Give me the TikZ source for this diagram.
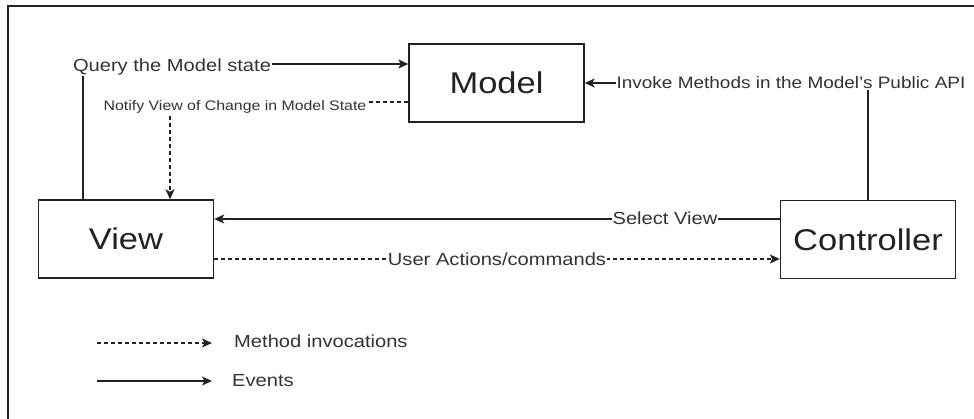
\documentclass[tikz,border=0pt]{standalone}
\usepackage{fontspec}
\setmainfont{Liberation Sans}[FakeStretch=1.15]
\usetikzlibrary{arrows.meta}
\definecolor{ink}{HTML}{222222}
\definecolor{txt}{HTML}{333333}
\tikzset{
  box/.style={draw=ink, line width=1.4pt, minimum width=175pt, minimum height=78pt,
    inner sep=0pt, font=\fontsize{30}{34}\selectfont, text=ink},
  lbl/.style={fill=white, inner sep=1pt, text=txt, font=\fontsize{17.5}{20}\selectfont},
  apilbl/.style={lbl, font=\fontsize{16.5}{19}\selectfont},
  smalllbl/.style={lbl, font=\fontsize{13.8}{16}\selectfont},
  evt/.style={draw=ink, line width=1.3pt, -{Stealth[length=10pt,width=9pt,inset=2.5pt]}},
  call/.style={evt, dash pattern=on 4pt off 3pt},
  frameline/.style={draw=ink, line width=2pt}
}
\begin{document}
\begin{tikzpicture}[x=1pt, y=-1pt]
  \useasboundingbox (0,0) rectangle (974,419);

  % outer frame (top and left edges)
  \coordinate (ftl) at (8,6);
  \coordinate (ftr) at (974,6);
  \coordinate (fbl) at (8,419);
  \draw[frameline] (ftr) -- (ftl) -- (fbl);

  % the three MVC components
  \node[box] (model) at (496.5,83) {Model};
  \node[box] (view) at (126,239) {View};
  \node[box] (ctrl) at (868,239.5) {Controller};

  % routing points of the connectors
  \coordinate (qc) at (83,64);
  \coordinate (nc) at (170,102);
  \coordinate (ic) at (868,83);
  \coordinate (sv) at (500,219);
  \coordinate (ua) at (500,259);

  % View queries the Model
  \draw[evt] (view.north -| qc) -- (qc) -- (model.west |- qc);
  % Model notifies the View
  \draw[call] (model.west |- nc) -- (nc) -- (view.north -| nc);
  % Controller invokes the Model's API
  \draw[evt] (ctrl.north) -- (ic) -- (model.east |- ic);
  % Controller selects the View
  \draw[evt] (sv -| ctrl.west) -- (sv -| view.east);
  % View forwards user actions to the Controller
  \draw[call] (ua -| view.east) -- (ua -| ctrl.west);

  % connector labels
  \node[lbl] (qlbl) at (172,67) {Query the Model state};
  \node[smalllbl] (nlbl) at (235,107) {Notify View of Change in Model State};
  \node[apilbl] (ilbl) at (791,83) {Invoke Methods in the Model's Public API};
  \node[lbl] (svlbl) at (665,218) {Select View};
  \node[lbl] (ualbl) at (497,259) {User Actions/commands};

  % legend
  \coordinate (la1) at (97,343);
  \coordinate (lb1) at (212,343);
  \coordinate (la2) at (97,381);
  \coordinate (lb2) at (212,381);
  \draw[call] (la1) -- (lb1);
  \draw[evt] (la2) -- (lb2);
  \node[lbl, anchor=west] (lg1) at (233,341) {Method invocations};
  \node[lbl, anchor=west] (lg2) at (231,381) {Events};
\end{tikzpicture}
\end{document}
